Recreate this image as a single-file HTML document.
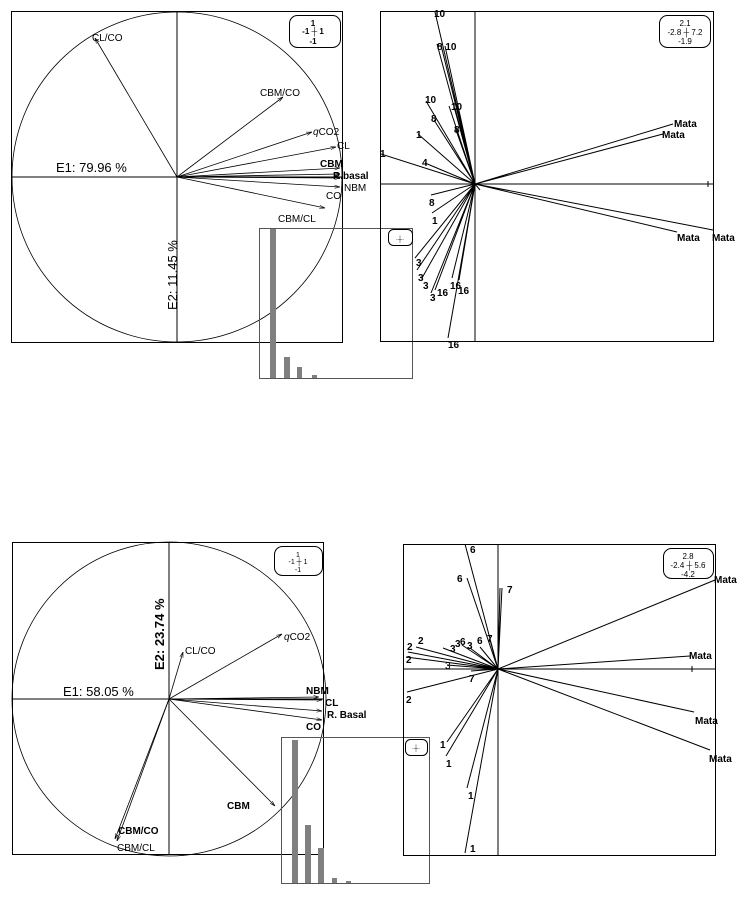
<!DOCTYPE html>
<html><head><meta charset="utf-8"><style>
html,body{margin:0;padding:0;background:#fff;}
svg{display:block;}
text{font-family:"Liberation Sans",Arial,sans-serif;fill:#000;}
.b{font-weight:bold;font-size:10px;}
.n{font-size:10px;}
</style></head><body>
<svg width="750" height="906" viewBox="0 0 750 906" xmlns="http://www.w3.org/2000/svg">
<defs>
<marker id="ar" viewBox="0 0 10 10" refX="10" refY="5" markerWidth="7" markerHeight="7" orient="auto"><path d="M0,2 L10,5 L0,8" fill="none" stroke="#000" stroke-width="1"/></marker>
</defs>
<g fill="none" stroke="#000" stroke-width="1">
<!-- Panel 1 -->
<rect x="11.5" y="11.5" width="331" height="331"/>
<circle cx="177" cy="177" r="165" stroke-width="0.8"/>
<line x1="11" y1="177" x2="342" y2="177"/>
<line x1="177" y1="11" x2="177" y2="342"/>
<g stroke-width="0.8" marker-end="url(#ar)">
<line x1="177" y1="177" x2="95" y2="38"/>
<line x1="177" y1="177" x2="283" y2="97"/>
<line x1="177" y1="177" x2="312" y2="132"/>
<line x1="177" y1="177" x2="336" y2="147"/>
<line x1="177" y1="177" x2="340" y2="168"/>
<line x1="177" y1="177" x2="340" y2="174"/>
<line x1="177" y1="177" x2="340" y2="178"/>
<line x1="177" y1="177" x2="340" y2="187"/>
<line x1="177" y1="177" x2="325" y2="208"/>
</g>
<rect x="289.5" y="15.5" width="51" height="32" rx="8"/>
<!-- bar inset 1 -->
<rect x="259.5" y="228.5" width="153" height="150" stroke="#555"/>
<rect x="388.5" y="229.5" width="24" height="16" rx="5"/>
<!-- Panel 2 -->
<rect x="380.5" y="11.5" width="333" height="330"/>
<line x1="380" y1="184" x2="713" y2="184"/>
<line x1="475" y1="11" x2="475" y2="341"/>
<line x1="708" y1="181" x2="708" y2="187"/>
<rect x="659.5" y="15.5" width="51" height="32" rx="8"/>
<g stroke-width="1">
<path d="M475,184 L435,12 M475,184 L437,44 M475,184 L441,45 M475,184 L445,46 M475,184 L426,101 M475,184 L434,120 M475,184 L449,106 M475,184 L455,108 M475,184 L456,130 M475,184 L418,134 M475,184 L425,163 M475,184 L381,154"/>
<path d="M475,184 L673,124 M475,184 L663,134 M475,184 L677,232 M475,184 L713,230 M475,184 L480,190"/>
<path d="M475,184 L431,195 M475,184 L432,213 M475,184 L415,258 M475,184 L417,270 M475,184 L422,278 M475,184 L431,293 M475,184 L435,290 M475,184 L452,278 M475,184 L459,280 M475,184 L448,338"/>
</g>
<!-- Panel 3 -->
<rect x="12.5" y="542.5" width="311" height="312"/>
<circle cx="169" cy="699" r="157" stroke-width="0.8"/>
<line x1="12" y1="699" x2="324" y2="699"/>
<line x1="169" y1="542" x2="169" y2="855"/>
<g stroke-width="0.8" marker-end="url(#ar)">
<line x1="169" y1="699" x2="183" y2="652"/>
<line x1="169" y1="699" x2="282" y2="634"/>
<line x1="169" y1="699" x2="319" y2="697"/>
<line x1="169" y1="699" x2="322" y2="700"/>
<line x1="169" y1="699" x2="322" y2="711"/>
<line x1="169" y1="699" x2="322" y2="720"/>
<line x1="169" y1="699" x2="275" y2="806"/>
<line x1="169" y1="699" x2="115" y2="839"/>
<line x1="169" y1="699" x2="117" y2="841"/>
</g>
<rect x="274.5" y="546.5" width="48" height="29" rx="8"/>
<rect x="281.5" y="737.5" width="148" height="146" stroke="#555"/>
<rect x="405.5" y="739.5" width="22" height="16" rx="5"/>
<!-- Panel 4 -->
<rect x="403.5" y="544.5" width="312" height="311"/>
<line x1="403" y1="669" x2="716" y2="669"/>
<line x1="498" y1="544" x2="498" y2="856"/>
<line x1="692" y1="666" x2="692" y2="672"/>
<rect x="663.5" y="548.5" width="50" height="30" rx="8"/>
<path d="M498,669 L465,544 M498,669 L467,578 M498,669 L500,588 M498,669 L502,588 M498,669 L416,647 M498,669 L408,652 M498,669 L406,657 M498,669 L443,648 M498,669 L462,645 M498,669 L470,648 M498,669 L480,647 M498,669 L490,640 M498,669 L447,665 M498,669 L471,671 M498,669 L407,692"/>
<path d="M498,669 L715,580 M498,669 L690,656 M498,669 L694,712 M498,669 L710,750"/>
<path d="M498,669 L447,742 M498,669 L446,756 M498,669 L467,788 M498,669 L465,853"/>
</g>
<!-- bars -->
<g fill="#808080">
<rect x="270" y="229" width="6" height="149"/>
<rect x="284" y="357" width="6" height="21"/>
<rect x="297" y="367" width="5" height="11"/>
<rect x="312" y="375" width="5" height="3"/>
<rect x="292" y="740" width="6" height="143"/>
<rect x="305" y="825" width="6" height="58"/>
<rect x="318" y="848" width="6" height="35"/>
<rect x="332" y="878" width="5" height="5"/>
<rect x="346" y="881" width="5" height="2"/>
</g>
<!-- Panel 1 labels -->
<text x="92" y="41" class="n">CL/CO</text>
<text x="260" y="96" class="b" style="font-weight:normal">CBM/CO</text>
<text x="313" y="135" class="n"><tspan font-style="italic">q</tspan>CO2</text>
<text x="337" y="149" class="n">CL</text>
<text x="320" y="167" class="b">CBM</text>
<text x="333" y="179" class="b">R.basal</text>
<text x="344" y="191" class="n">NBM</text>
<text x="326" y="199" class="n">CO</text>
<text x="278" y="222" class="n">CBM/CL</text>
<text x="56" y="172" font-size="13">E1: 79.96 %</text>
<text transform="translate(177,310) rotate(-90)" font-size="13">E2: 11.45 %</text>
<text x="313" y="26" font-size="8" font-weight="bold" text-anchor="middle">1</text>
<text x="313" y="34" font-size="8" font-weight="bold" text-anchor="middle">-1 ┼ 1</text>
<text x="313" y="44" font-size="8" font-weight="bold" text-anchor="middle">-1</text>
<text x="400" y="241" font-size="6" text-anchor="middle">·┼·</text>
<!-- Panel 2 labels -->
<g class="b" font-size="10" font-weight="bold">
<text x="434" y="17" class="b">10</text>
<text x="437" y="50" class="b">8 10</text>
<text x="425" y="103" class="b">10</text>
<text x="431" y="122" class="b">8</text>
<text x="451" y="110" class="b">10</text>
<text x="454" y="133" class="b">8</text>
<text x="416" y="138" class="b">1</text>
<text x="422" y="166" class="b">4</text>
<text x="380" y="157" class="b">1</text>
<text x="674" y="127" class="b">Mata</text>
<text x="662" y="138" class="b">Mata</text>
<text x="677" y="241" class="b">Mata</text>
<text x="712" y="241" class="b">Mata</text>
<text x="429" y="206" class="b">8</text>
<text x="432" y="224" class="b">1</text>
<text x="416" y="266" class="b">3</text>
<text x="418" y="281" class="b">3</text>
<text x="423" y="289" class="b">3</text>
<text x="430" y="301" class="b">3</text>
<text x="437" y="296" class="b">16</text>
<text x="450" y="289" class="b">16</text>
<text x="458" y="294" class="b">16</text>
<text x="448" y="348" class="b">16</text>
</g>
<text x="685" y="26" font-size="8" text-anchor="middle">2.1</text>
<text x="685" y="35" font-size="8" text-anchor="middle">-2.8 ┼ 7.2</text>
<text x="685" y="44" font-size="8" text-anchor="middle">-1.9</text>
<!-- Panel 3 labels -->
<text x="185" y="654" class="n">CL/CO</text>
<text x="284" y="640" class="n"><tspan font-style="italic">q</tspan>CO2</text>
<text x="306" y="694" class="b">NBM</text>
<text x="325" y="706" class="b">CL</text>
<text x="327" y="718" class="b">R. Basal</text>
<text x="306" y="730" class="b">CO</text>
<text x="227" y="809" class="b">CBM</text>
<text x="118" y="834" class="b">CBM/CO</text>
<text x="117" y="851" class="n">CBM/CL</text>
<text x="63" y="696" font-size="13">E1: 58.05 %</text>
<text transform="translate(164,670) rotate(-90)" font-size="13" font-weight="bold">E2: 23.74 %</text>
<text x="298" y="557" font-size="7" text-anchor="middle">1</text>
<text x="298" y="564" font-size="7" text-anchor="middle">-1 ┼ 1</text>
<text x="298" y="572" font-size="7" text-anchor="middle">-1</text>
<text x="416" y="750" font-size="6" text-anchor="middle">·┼·</text>
<!-- Panel 4 labels -->
<text x="470" y="553" class="b">6</text>
<text x="457" y="582" class="b">6</text>
<text x="507" y="593" class="b">7</text>
<text x="418" y="644" class="b">2</text>
<text x="407" y="650" class="b">2</text>
<text x="406" y="663" class="b">2</text>
<text x="455" y="647" class="b">3</text>
<text x="460" y="645" class="b">6</text>
<text x="467" y="649" class="b">3</text>
<text x="477" y="644" class="b">6</text>
<text x="487" y="642" class="b">7</text>
<text x="450" y="652" class="b">3</text>
<text x="445" y="669" class="n">3</text>
<text x="469" y="682" class="b">7</text>
<text x="406" y="703" class="b">2</text>
<text x="440" y="748" class="b">1</text>
<text x="446" y="767" class="b">1</text>
<text x="468" y="799" class="b">1</text>
<text x="470" y="852" class="b">1</text>
<text x="714" y="583" class="b">Mata</text>
<text x="689" y="659" class="b">Mata</text>
<text x="695" y="724" class="b">Mata</text>
<text x="709" y="762" class="b">Mata</text>
<text x="688" y="559" font-size="8" text-anchor="middle">2.8</text>
<text x="688" y="568" font-size="8" text-anchor="middle">-2.4 ┼ 5.6</text>
<text x="688" y="577" font-size="8" text-anchor="middle">-4.2</text>
</svg>
</body></html>
